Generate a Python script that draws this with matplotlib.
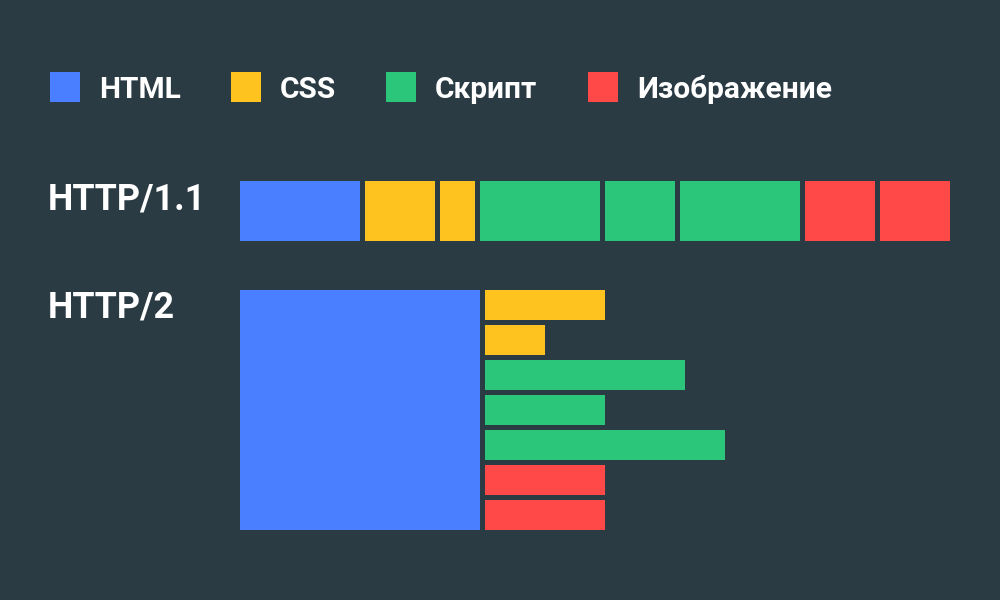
import numpy as np
import matplotlib.pyplot as plt

# colours of each resource type
colors = {'html': '#4a80ff', 'css': '#ffc320', 'js': '#2bc67a', 'img': '#ff4949'}
legend_keys = ['html', 'css', 'js', 'img']
legend_labels = ['HTML', 'CSS', 'Скрипт', 'Изображение']

# HTTP/1.1: resources loaded one after another (durations)
http11_types = ['html', 'css', 'css', 'js', 'js', 'js', 'img', 'img']
http11_durations = [120, 70, 35, 120, 70, 120, 70, 70]

# HTTP/2: html first, then everything in parallel
http2_html = 240
http2_types = ['css', 'css', 'js', 'js', 'js', 'img', 'img']
http2_durations = [120, 60, 200, 120, 240, 120, 120]

bg = '#2b3b44'
gap = 5
x0 = 240

plt.rcParams['font.family'] = ['Roboto', 'DejaVu Sans']
fig = plt.figure(figsize=(10, 6), dpi=100, facecolor=bg)
ax = fig.add_axes([0, 0, 1, 1])
ax.set_facecolor(bg)
ax.set_xlim(0, 1000)
ax.set_ylim(600, 0)
ax.axis('off')

# legend
leg_x = [50, 231, 386, 588]
for k, lab, lx in zip(legend_keys, legend_labels, leg_x):
    ax.bar(lx, 30, width=30, bottom=72, align='edge', color=colors[k])
    ax.text(lx + 49, 98, lab, color='white', fontsize=21.5, fontweight='bold',
            va='baseline', ha='left')

# HTTP/1.1 row
ax.text(48, 209, 'HTTP/1.1', color='white', fontsize=25.8, fontweight='bold',
        va='baseline', ha='left')
lefts = x0 + np.concatenate([[0], np.cumsum(np.array(http11_durations) + gap)[:-1]])
ax.barh(181, http11_durations, height=60, left=lefts, align='edge',
        color=[colors[t] for t in http11_types])

# HTTP/2 row
ax.text(48, 317, 'HTTP/2', color='white', fontsize=25.8, fontweight='bold',
        va='baseline', ha='left')
ax.barh(290, http2_html, height=240, left=x0, align='edge', color=colors['html'])
rows = 290 + np.arange(len(http2_durations)) * 35
ax.barh(rows, http2_durations, height=30, left=x0 + http2_html + gap, align='edge',
        color=[colors[t] for t in http2_types])

fig.savefig('out.png', dpi=100, facecolor=bg)
